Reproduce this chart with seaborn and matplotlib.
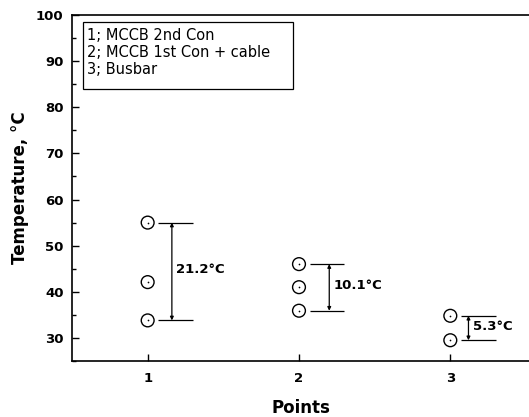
import matplotlib
matplotlib.use("Agg")
import matplotlib.pyplot as plt
import seaborn as sns
import pandas as pd
from matplotlib.patches import Rectangle
from matplotlib.ticker import MultipleLocator

# Data
points = [1, 1, 1, 2, 2, 2, 3, 3]
temps = [55.0, 42.1, 33.8, 46.0, 41.0, 35.9, 34.8, 29.5]
legend_lines = ["1; MCCB 2nd Con", "2; MCCB 1st Con + cable", "3; Busbar"]
x_ticks = [1, 2, 3]
y_ticks = [30, 40, 50, 60, 70, 80, 90, 100]

df = pd.DataFrame({"Points": points, "Temperature": temps})

sns.set_style("ticks")
plt.rcParams['font.family'] = ['DejaVu Sans']
plt.rcParams.update({"text.color": "black", "axes.labelcolor": "black",
                     "xtick.color": "black", "ytick.color": "black",
                     "axes.edgecolor": "black"})

fig = plt.figure(figsize=(5.29, 4.17), dpi=100)
ax = fig.add_axes([72/529, 56/417, 1 - 72/529, (361-15)/417])

sns.scatterplot(data=df, x="Points", y="Temperature", ax=ax, marker="o", s=85,
                facecolor="none", edgecolor="black", linewidth=1.0, zorder=3)
sns.scatterplot(data=df, x="Points", y="Temperature", ax=ax, marker="o", s=1.5,
                color="black", linewidth=0, zorder=4)

arrow_off = {1: 0.16, 2: 0.20, 3: 0.12}
for p in x_ticks:
    vals = df.loc[df.Points == p, "Temperature"]
    hi, lo = vals.max(), vals.min()
    ax.hlines([hi, lo], p + 0.07, p + 0.30, color="black", linewidth=0.9)
    xa = p + arrow_off[p]
    ax.annotate("", xy=(xa, hi), xytext=(xa, lo),
                arrowprops=dict(arrowstyle="<|-|>", color="black", lw=0.9,
                                mutation_scale=5, shrinkA=0, shrinkB=0))
    ax.text(xa + 0.03, (hi + lo) / 2 + 0.4, f"{hi - lo:.1f}°C", fontsize=9.5,
            fontweight="bold", va="center", ha="left", color="black")

ax.set_xlim(0.5, 3.52)
ax.set_ylim(25, 100)
ax.set_xticks(x_ticks)
ax.set_yticks(y_ticks)
ax.yaxis.set_minor_locator(MultipleLocator(5))
ax.tick_params(axis="both", which="both", direction="in", width=1.0, colors="black")
ax.tick_params(axis="both", which="major", length=5, labelsize=9.5)
ax.tick_params(axis="y", which="minor", length=3)
ax.tick_params(axis="y", which="major", pad=6)
ax.tick_params(axis="x", which="major", pad=8)
for lab in ax.get_xticklabels() + ax.get_yticklabels():
    lab.set_fontweight("bold")

for s in ["left", "bottom", "top"]:
    ax.spines[s].set_linewidth(1.2)
    ax.spines[s].set_color("black")
ax.spines["right"].set_visible(False)

ax.set_xlabel("Points", fontsize=12, fontweight="bold", labelpad=10, color="black")
ax.set_ylabel("Temperature, °C", fontsize=12, fontweight="bold", labelpad=5, color="black")

# legend-like text box
W, H = 457, 346
x0 = (83 - 72) / W
x1 = (293 - 72) / W
y0 = (361 - 89) / H
y1 = (361 - 22) / H
ax.add_patch(Rectangle((x0, y0), x1 - x0, y1 - y0, transform=ax.transAxes,
                       fill=False, edgecolor="black", linewidth=0.9, zorder=5))
for i, line in enumerate(legend_lines):
    yc = (361 - (35 + 17.5 * i)) / H
    ax.text((87 - 72) / W, yc, line, transform=ax.transAxes, fontsize=10.5,
            va="center", ha="left", color="black")

fig.savefig("out.png", dpi=100)
